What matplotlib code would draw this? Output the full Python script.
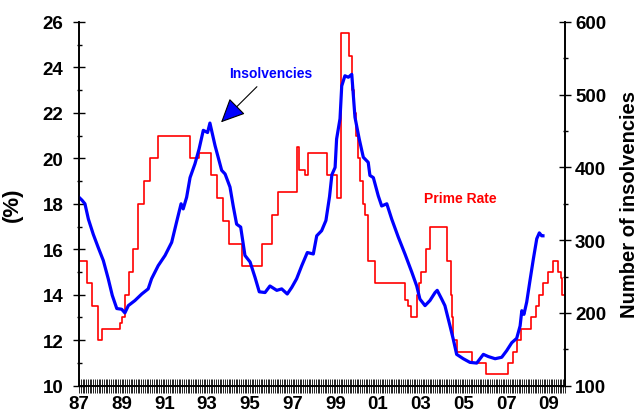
import numpy as np
import matplotlib
matplotlib.use("Agg")
import matplotlib.pyplot as plt

plt.rcParams['font.family'] = ['Liberation Sans', 'DejaVu Sans']
plt.rcParams['font.weight'] = 'bold'

# prime rate (%), step changes: start of each level
prime_dates = [1987.00, 1987.36, 1987.62, 1987.88, 1988.06, 1988.92, 1989.01, 1989.15,
               1989.34, 1989.53, 1989.76, 1990.04, 1990.32, 1990.70, 1992.20, 1992.62,
               1993.20, 1993.45, 1993.76, 1994.04, 1994.62, 1995.55, 1996.02, 1996.33,
               1997.19, 1997.31, 1997.58, 1997.73, 1998.62, 1999.08, 1999.27, 1999.66,
               1999.76, 1999.86, 1999.96, 2000.06, 2000.14, 2000.28, 2000.39, 2000.55,
               2000.86, 2002.26, 2002.40, 2002.53, 2002.81, 2002.91, 2003.01, 2003.24,
               2003.43, 2004.21, 2004.40, 2004.46, 2004.52, 2004.68, 2005.38, 2006.05,
               2007.10, 2007.30, 2007.52, 2007.68, 2008.15, 2008.40, 2008.55, 2008.71,
               2008.97, 2009.21, 2009.44, 2009.56, 2009.62, 2009.70]
prime_rate = [15.5, 14.5, 13.5, 12.0, 12.5, 12.75, 13.0, 14.0,
              15.0, 16.0, 18.0, 19.0, 20.0, 21.0, 20.0, 20.25,
              19.25, 18.25, 17.25, 16.25, 15.25, 16.25, 17.5, 18.5,
              20.5, 19.5, 19.25, 20.25, 19.25, 18.25, 25.5, 24.5,
              23.0, 22.0, 21.0, 20.0, 19.0, 18.0, 17.5, 15.5,
              14.5, 13.75, 13.5, 13.0, 14.0, 14.5, 15.0, 16.0,
              17.0, 15.5, 14.0, 13.0, 12.0, 11.5, 11.0, 10.5,
              11.0, 11.5, 12.0, 12.5, 13.0, 13.5, 14.0, 14.5,
              15.0, 15.5, 15.0, 14.75, 14.0, 14.0]

# number of insolvencies
insolv_dates = [1987.00, 1987.14, 1987.28, 1987.44, 1987.67, 1987.90, 1988.14, 1988.37,
                1988.56, 1988.77, 1989.00, 1989.15, 1989.31, 1989.62, 1989.94, 1990.24,
                1990.40, 1990.71, 1991.03, 1991.34, 1991.57, 1991.78, 1991.88, 1992.04,
                1992.20, 1992.43, 1992.62, 1992.82, 1993.02, 1993.13, 1993.37, 1993.68,
                1993.84, 1994.07, 1994.22, 1994.38, 1994.57, 1994.77, 1995.01, 1995.24,
                1995.44, 1995.71, 1995.94, 1996.26, 1996.49, 1996.75, 1996.96, 1997.19,
                1997.43, 1997.69, 1997.97, 1998.13, 1998.36, 1998.56, 1998.73, 1998.84,
                1998.99, 1999.06, 1999.22, 1999.30, 1999.45, 1999.61, 1999.77, 1999.92,
                2000.12, 2000.31, 2000.54, 2000.62, 2000.78, 2001.01, 2001.17, 2001.41,
                2001.64, 2001.95, 2002.26, 2002.58, 2002.81, 2002.96, 2003.20, 2003.43,
                2003.67, 2003.77, 2003.98, 2004.13, 2004.37, 2004.52, 2004.68, 2004.99,
                2005.30, 2005.62, 2005.93, 2006.16, 2006.48, 2006.79, 2007.02, 2007.26,
                2007.49, 2007.65, 2007.73, 2007.83, 2007.96, 2008.11, 2008.27, 2008.43,
                2008.55, 2008.66, 2008.72]
insolvencies = [359, 355, 350, 329, 308, 290, 272, 247,
                224, 206, 205, 200, 210, 217, 226, 233,
                247, 265, 279, 297, 325, 350, 343, 359,
                386, 405, 425, 451, 448, 461, 430, 396,
                391, 373, 347, 322, 318, 279, 270, 249,
                229, 228, 237, 231, 233, 226, 235, 247,
                265, 283, 281, 306, 313, 327, 360, 390,
                400, 439, 467, 512, 526, 524, 528, 469,
                439, 414, 407, 389, 386, 361, 347, 350,
                329, 304, 281, 256, 237, 219, 210, 217,
                228, 231, 219, 210, 182, 164, 143, 137,
                132, 131, 143, 140, 137, 139, 148, 159,
                165, 182, 203, 198, 215, 244, 274, 302,
                310, 306, 306]

year_ticks = list(range(1987, 2010, 2))
year_labels = ['87', '89', '91', '93', '95', '97', '99', '01', '03', '05', '07', '09']

fig = plt.figure(figsize=(6.42, 4.10), dpi=100)
ax = fig.add_axes([0.123, 0.057, 0.757, 0.887])
ax2 = ax.twinx()

ax.plot(prime_dates, prime_rate, color='#ff0000', lw=1.2, drawstyle='steps-post')
ax2.plot(insolv_dates, insolvencies, color='#0000ff', lw=2.3)

ax.set_xlim(1987.0, 2009.75)
ax.set_ylim(10, 26)
ax2.set_ylim(100, 600)

ax.set_xticks(year_ticks)
ax.set_xticklabels(year_labels)
ax.set_xticks(np.arange(1987, 2009.76, 1 / 12), minor=True)
ax.tick_params(axis='x', which='both', direction='inout', length=10, width=0.6, pad=2,
               labelsize=13.5)

ax.set_yticks(np.arange(10, 27, 2))
ax.set_yticks(np.arange(10, 27, 1), minor=True)
ax.tick_params(axis='y', which='major', direction='inout', length=8.5, width=1, pad=7,
               labelsize=13.5)
ax.tick_params(axis='y', which='minor', direction='inout', length=3.6, width=1)

ax2.set_yticks(np.arange(100, 601, 100))
ax2.set_yticks(np.arange(100, 601, 50), minor=True)
ax2.tick_params(axis='y', which='major', direction='inout', length=8.5, width=1, pad=3,
                labelsize=13.5)
ax2.tick_params(axis='y', which='minor', direction='inout', length=3.6, width=1)

for a in (ax, ax2):
    a.spines['top'].set_visible(False)
    for s in ('left', 'right', 'bottom'):
        a.spines[s].set_linewidth(1.2)

ax.set_ylabel('(%)', fontsize=16, fontweight='bold', labelpad=14)
ax2.set_ylabel('Number of insolvencies', fontsize=14.5, fontweight='bold', labelpad=10)

ax2.annotate('', xy=(1993.65, 462), xytext=(1995.33, 511),
             arrowprops=dict(arrowstyle='-|>,head_length=1.5,head_width=0.7',
                             fc='#0000ff', ec='black', lw=0.8, mutation_scale=10,
                             shrinkA=0, shrinkB=0))
ax2.text(1996.0, 530, 'Insolvencies', color='#0000ff', fontsize=10, fontweight='bold',
         ha='center', va='center')
ax2.text(2004.85, 358, 'Prime Rate', color='#ff0000', fontsize=10, fontweight='bold',
         ha='center', va='center')

fig.savefig('out.png', dpi=100)
